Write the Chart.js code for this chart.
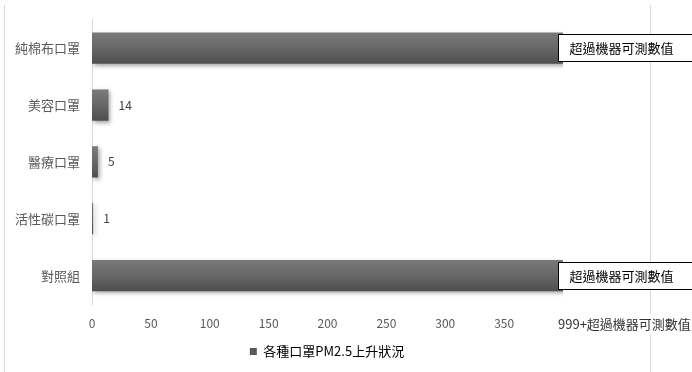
<!DOCTYPE html>
<html>
<head>
<meta charset="utf-8">
<script src="https://cdn.jsdelivr.net/npm/chart.js@4.4.0/dist/chart.umd.min.js"></script>
<style>
  html, body { margin: 0; padding: 0; background: #fff; }
  #wrap { width: 692px; height: 372px; }
</style>
</head>
<body>
<div id="wrap"><canvas id="c"></canvas></div>
<script>
// --- DATOS ---
const categories = ['純棉布口罩', '美容口罩', '醫療口罩', '活性碳口罩', '對照組'];
const values = [999, 14, 5, 1, 999];      // 999 = 超過機器可測數值
const tickValues = [0, 50, 100, 150, 200, 250, 300, 350, 400];
const tickLabels = ['0', '50', '100', '150', '200', '250', '300', '350', '999+超過機器可測數值'];
const overLabel = '超過機器可測數值';
const seriesName = '各種口罩PM2.5上升狀況';
const axisMax = 400;
const overLimit = 999;

const FONT = '"Noto Sans CJK TC", "Noto Sans", sans-serif';
const shown = values.map(v => v >= overLimit ? axisMax : v);

// --- PLUGINS ---
const bordes = {
    id: 'bordes',
    beforeDraw(chart) {
        const ctx = chart.ctx;
        ctx.save();
        ctx.strokeStyle = '#d9d9d9';
        ctx.lineWidth = 1;
        ctx.beginPath();
        ctx.moveTo(4.5, 5); ctx.lineTo(4.5, 372);
        ctx.moveTo(650.5, 5); ctx.lineTo(650.5, 372);
        ctx.stroke();
        ctx.restore();
    }
};

const sombra = {
    id: 'sombra',
    beforeDatasetsDraw(chart) {
        const ctx = chart.ctx;
        ctx.save();
        ctx.shadowColor = 'rgba(0,0,0,0.35)';
        ctx.shadowBlur = 4;
        ctx.shadowOffsetX = 2;
        ctx.shadowOffsetY = 2;
    },
    afterDatasetsDraw(chart) {
        chart.ctx.restore();
    }
};

const etiquetas = {
    id: 'etiquetas',
    afterDraw(chart) {
        const ctx = chart.ctx;
        const meta = chart.getDatasetMeta(0);
        ctx.save();
        ctx.textBaseline = 'middle';
        ctx.textAlign = 'left';
        meta.data.forEach((bar, i) => {
            if (values[i] >= overLimit) {
                ctx.font = '13px ' + FONT;
                const left = Math.round(bar.x) - 5 + 0.5;
                const top = Math.round(bar.y) - 14 + 0.5;
                const w = ctx.measureText(overLabel).width + 40;
                ctx.fillStyle = '#fff';
                ctx.fillRect(left, top, w, 27);
                ctx.strokeStyle = '#000';
                ctx.lineWidth = 1;
                ctx.strokeRect(left, top, w, 27);
                ctx.fillStyle = '#000';
                ctx.fillText(overLabel, left + 11, bar.y);
            } else {
                ctx.font = '12px ' + FONT;
                ctx.fillStyle = '#404040';
                ctx.fillText(String(values[i]), bar.x + 10, bar.y);
            }
        });
        // ultima etiqueta del eje x
        const x = chart.scales.x;
        const last = tickLabels[tickLabels.length - 1];
        ctx.font = '13px ' + FONT;
        const tx = x.getPixelForValue(tickValues[tickValues.length - 1]) - 5;
        const ty = 324;
        const tw = ctx.measureText(last).width;
        ctx.fillStyle = '#fff';
        ctx.fillRect(tx - 2, ty - 10, tw + 4, 20);
        ctx.fillStyle = '#333';
        ctx.fillText(last, tx, ty);
        ctx.restore();
    }
};

// --- GRAFICO ---
new Chart(document.getElementById('c'), {
    type: 'bar',
    data: {
        labels: categories,
        datasets: [{
            label: seriesName,
            data: shown,
            barPercentage: 0.55,
            categoryPercentage: 1,
            borderWidth: 0,
            backgroundColor: (c) => {
                const chart = c.chart, y = chart.scales.y;
                if (c.type !== 'data' || !y) return '#666';
                const cy = y.getPixelForValue(c.dataIndex);
                const h = (y.getPixelForValue(1) - y.getPixelForValue(0)) * 0.55;
                const g = chart.ctx.createLinearGradient(0, cy - h / 2, 0, cy + h / 2);
                g.addColorStop(0, '#7a7a7a');
                g.addColorStop(0.5, '#676767');
                g.addColorStop(1, '#4e4e4e');
                return g;
            }
        }]
    },
    options: {
        indexAxis: 'y',
        responsive: true,
        maintainAspectRatio: false,
        animation: false,
        layout: { padding: { left: 4, right: 42, top: 15, bottom: 4 } },
        scales: {
            x: {
                min: 0,
                max: axisMax,
                afterBuildTicks: (s) => { s.ticks = tickValues.map(v => ({ value: v })); },
                grid: { display: false, drawTicks: false },
                border: { display: false },
                ticks: {
                    padding: 12,
                    color: '#595959',
                    font: { size: 12, family: FONT },
                    maxRotation: 0,
                    autoSkip: false,
                    callback: (v) => {
                        const i = tickValues.indexOf(v);
                        return i === tickValues.length - 1 ? '' : tickLabels[i];
                    }
                },
                afterFit: (s) => { s.height = 35; }
            },
            y: {
                grid: { display: false, drawTicks: false },
                border: { display: true, color: '#d9d9d9' },
                ticks: { padding: 12, color: '#595959', font: { size: 13, family: FONT } },
                afterFit: (s) => { s.width = 88; }
            },
            y2: {
                type: 'category',
                position: 'right',
                grid: { display: false, drawTicks: false },
                border: { display: false },
                ticks: { display: false },
                afterFit: (s) => { s.width = 87; }
            }
        },
        plugins: {
            legend: {
                position: 'bottom',
                labels: {
                    boxWidth: 7,
                    boxHeight: 7,
                    padding: 6,
                    color: '#595959',
                    font: { size: 13, family: FONT },
                    generateLabels: () => [{
                        text: seriesName, fillStyle: '#595959', strokeStyle: '#595959',
                        lineWidth: 0, datasetIndex: 0
                    }]
                }
            },
            tooltip: { enabled: false }
        }
    },
    plugins: [bordes, sombra, etiquetas]
});
</script>
</body>
</html>
